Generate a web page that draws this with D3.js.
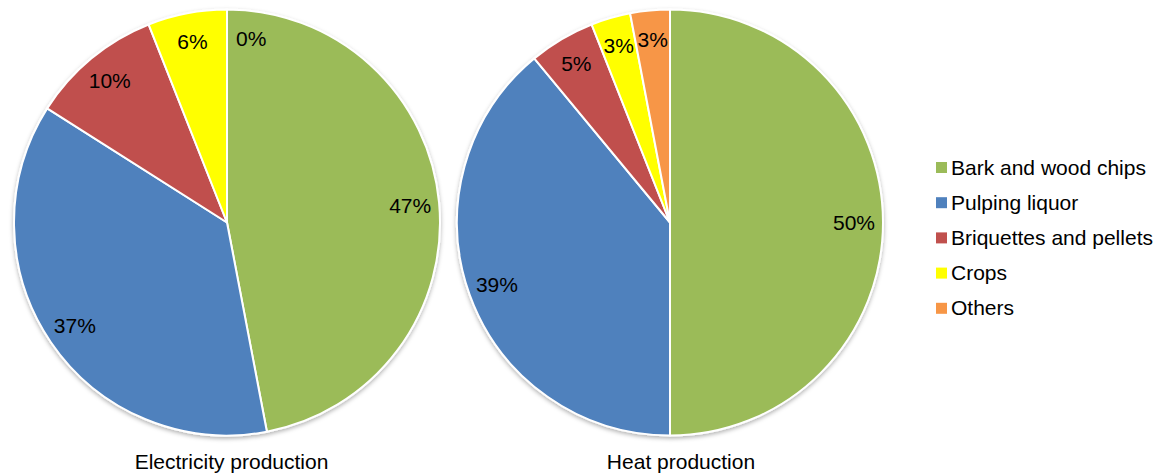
<!DOCTYPE html>
<html>
<head>
<meta charset="utf-8">
<script src="https://cdn.jsdelivr.net/npm/d3@7"></script>
<style>
  html, body { margin: 0; padding: 0; background: #fff; }
  svg { display: block; font-family: "Liberation Sans", Arial, sans-serif; }
</style>
</head>
<body>
<svg id="chart" width="1161" height="475"></svg>
<script>
// Biomass fuel shares (%) by use
const categories = ["Bark and wood chips", "Pulping liquor", "Briquettes and pellets", "Crops", "Others"];
const electricityShares = [47, 37, 10, 6, 0];
const heatShares = [50, 39, 5, 3, 3];
const pieTitles = ["Electricity production", "Heat production"];
const palette = ["#9BBB59", "#4F81BD", "#C0504D", "#FFFF00", "#F79646"];

const svg = d3.select("#chart");
const color = d3.scaleOrdinal().domain(categories).range(palette);
const fontSize = 21;

// soft drop shadow under each pie
const defs = svg.append("defs");
const shadow = defs.append("filter").attr("id", "pieShadow")
  .attr("x", "-10%").attr("y", "-10%").attr("width", "120%").attr("height", "120%");
shadow.append("feDropShadow")
  .attr("dx", 0).attr("dy", 2).attr("stdDeviation", 2)
  .attr("flood-color", "#000").attr("flood-opacity", 0.3);

const radius = 213;
const labelRadius = 184;
const pies = [
  { title: pieTitles[0], values: electricityShares, cx: 227, cy: 222.5, titleX: 231.5 },
  { title: pieTitles[1], values: heatShares, cx: 670, cy: 222.5, titleX: 681 }
];

const pie = d3.pie().sort(null).value(d => d.value);
const arc = d3.arc().innerRadius(0).outerRadius(radius);
const labelArc = d3.arc().innerRadius(labelRadius).outerRadius(labelRadius);

pies.forEach(p => {
  const data = categories.map((c, i) => ({ category: c, value: p.values[i] }));
  const arcs = pie(data);
  const g = svg.append("g").attr("transform", `translate(${p.cx},${p.cy})`);

  g.append("g").attr("filter", "url(#pieShadow)")
    .selectAll("path")
    .data(arcs)
    .join("path")
    .attr("d", arc)
    .attr("fill", d => color(d.data.category))
    .attr("stroke", "#fff")
    .attr("stroke-width", 2)
    .attr("stroke-linejoin", "round");

  // percentage labels; an empty slice gets its label beside the edge
  g.selectAll("text.pct")
    .data(arcs)
    .join("text")
    .attr("class", "pct")
    .attr("x", d => {
      const [x] = labelArc.centroid(d);
      return d.data.value === 0 ? x + 9 : x;
    })
    .attr("y", d => labelArc.centroid(d)[1])
    .attr("dy", "0.35em")
    .attr("text-anchor", d => d.data.value === 0 ? "start" : "middle")
    .attr("font-size", fontSize)
    .attr("fill", "#000")
    .text(d => d.data.value + "%");

  svg.append("text")
    .attr("x", p.titleX)
    .attr("y", 469)
    .attr("text-anchor", "middle")
    .attr("font-size", fontSize)
    .attr("fill", "#000")
    .text(p.title);
});

// legend
const legend = svg.append("g").attr("transform", "translate(936,162)");
const item = legend.selectAll("g")
  .data(categories)
  .join("g")
  .attr("transform", (d, i) => `translate(0,${i * 35.2})`);
item.append("rect")
  .attr("width", 11).attr("height", 11)
  .attr("fill", d => color(d));
item.append("text")
  .attr("x", 15).attr("y", 12.5)
  .attr("font-size", fontSize)
  .attr("fill", "#000")
  .text(d => d);
</script>
</body>
</html>
